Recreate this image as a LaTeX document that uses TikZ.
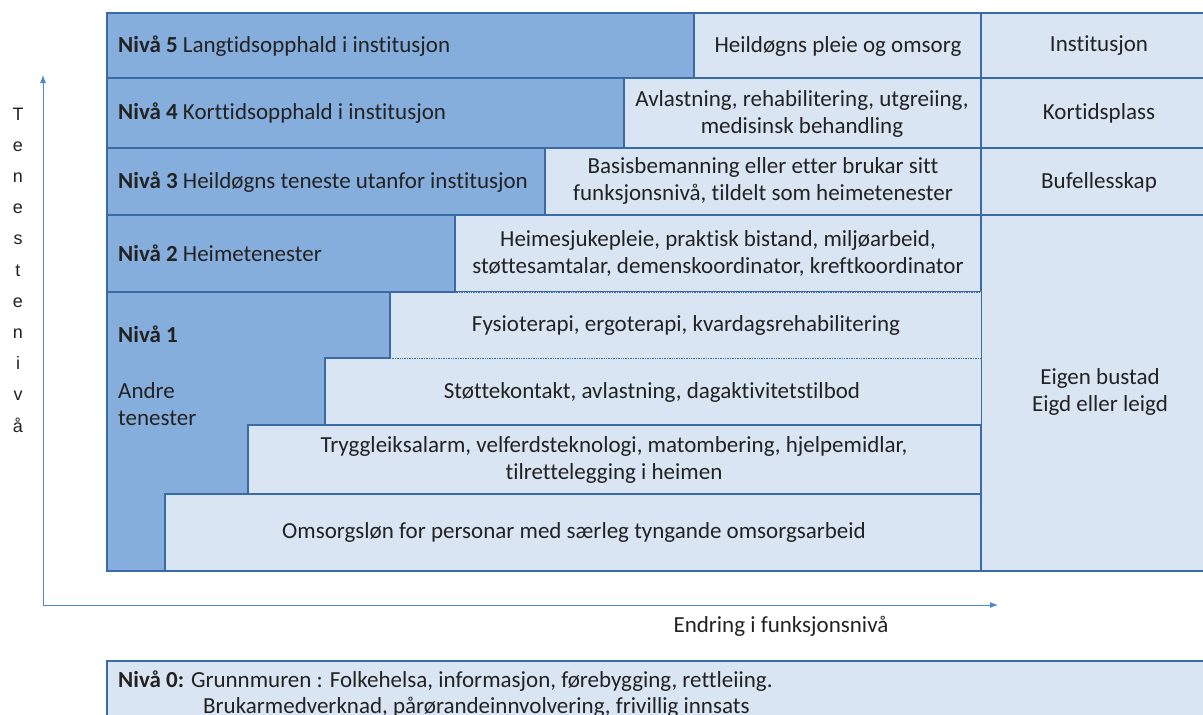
\documentclass[tikz,border=0pt]{standalone}
\usepackage{fontspec}
\setmainfont{Carlito}[Ligatures=NoCommon]
\newfontfamily\axisfont{Liberation Sans}
\usetikzlibrary{arrows.meta}
\definecolor{darkfill}{HTML}{86AEDD}
\definecolor{lightfill}{HTML}{DAE5F3}
\definecolor{edgeblue}{HTML}{3A6BA8}
\definecolor{arrowblue}{HTML}{4F87D0}
\definecolor{ink}{HTML}{222222}

\begin{document}
\begin{tikzpicture}[x=1pt, y=-1pt, text=ink,
    font=\fontsize{23}{27}\selectfont,
    lvl/.style={draw=edgeblue, line width=1.4pt, fill=darkfill},
    srv/.style={draw=edgeblue, line width=1.4pt, fill=lightfill},
    soft/.style={draw=edgeblue, line width=0.7pt, densely dotted, fill=lightfill},
    lbl/.style={anchor=west, inner sep=0pt},
    txt/.style={align=center, inner sep=0pt}]
    \useasboundingbox (0,0) rectangle (1203,715);
    \clip (0,0) rectangle (1203,715);

    % right column
    \draw[srv] (981,13) rectangle (1215,78);
    \draw[srv] (981,78) rectangle (1215,148);
    \draw[srv] (981,148) rectangle (1215,215);
    \draw[srv] (981,215) rectangle (1215,571);

    % services
    \draw[srv] (694,13) rectangle (981,78);
    \draw[srv] (624,78) rectangle (981,148);
    \draw[srv] (545,148) rectangle (981,215);
    \draw[srv] (455,215) rectangle (981,292);
    \draw[soft] (390,292) rectangle (981,358);
    \draw[soft] (325,358) rectangle (981,425);
    \draw[srv] (248,425) rectangle (981,494);
    \draw[srv] (165,494) rectangle (981,571);

    % levels
    \draw[lvl] (107,13) rectangle (694,78);
    \draw[lvl] (107,78) rectangle (624,148);
    \draw[lvl] (107,148) rectangle (545,215);
    \draw[lvl] (107,215) rectangle (455,292);
    \draw[lvl] (107,292) -- (390,292) -- (390,358) -- (325,358) -- (325,425)
        -- (248,425) -- (248,494) -- (165,494) -- (165,571) -- (107,571) -- cycle;

    \node[lbl] (n5) at (118,46) {\textbf{Nivå 5} Langtidsopphald i institusjon};
    \node[lbl] (n4) at (118,113) {\textbf{Nivå 4} Korttidsopphald i institusjon};
    \node[lbl] (n3) at (118,182) {\textbf{Nivå 3} Heildøgns teneste utanfor institusjon};
    \node[lbl] (n2) at (118,253) {\textbf{Nivå 2} Heimetenester};
    \node[lbl] (n1) at (118,334) {\textbf{Nivå 1}};
    \node[lbl, align=left] (andre) at (118,404) {Andre\\tenester};

    \node[txt] (s5) at (838,46) {Heildøgns pleie og omsorg};
    \node[txt] (s4) at (802,114) {Avlastning, rehabilitering, utgreiing,\\medisinsk behandling};
    \node[txt] (s3) at (763,181) {Basisbemanning eller etter brukar sitt\\funksjonsnivå, tildelt som heimetenester};
    \node[txt] (s2) at (718,253) {Heimesjukepleie, praktisk bistand, miljøarbeid,\\støttesamtalar, demenskoordinator, kreftkoordinator};
    \node[txt] (s1a) at (686,325) {Fysioterapi, ergoterapi, kvardagsrehabilitering};
    \node[txt] (s1b) at (652,392) {Støttekontakt, avlastning, dagaktivitetstilbod};
    \node[txt] (s1c) at (614,460) {Tryggleiksalarm, velferdsteknologi, matombering, hjelpemidlar,\\tilrettelegging i heimen};
    \node[txt] (s1d) at (574,532) {Omsorgsløn for personar med særleg tyngande omsorgsarbeid};

    \node[txt] (b5) at (1099,46) {Institusjon};
    \node[txt] (b4) at (1099,113) {Kortidsplass};
    \node[txt] (b3) at (1099,182) {Bufellesskap};
    \node[txt] (b1) at (1100,392) {Eigen bustad\\Eigd eller leigd};

    % axes
    \coordinate (o) at (43,605);
    \coordinate (ytop) at (43,75);
    \coordinate (xend) at (998,605);
    \draw[arrowblue, line width=0.9pt, -{Latex[length=8pt,width=6pt]}] (o) -- (ytop);
    \draw[arrowblue, line width=0.9pt, -{Latex[length=8pt,width=6pt]}] (o) -- (xend);
    \foreach \l [count=\i] in {T,e,n,e,s,t,e,n,i,v,å}
        \node[anchor=base, inner sep=0pt, font=\axisfont\fontsize{18}{20}\selectfont]
            (t\i) at (18,120+31.2*\i-31.2) {\l};
    \node[txt] (endring) at (781,626) {Endring i funksjonsnivå};

    % grunnmur
    \draw[srv] (107,661) rectangle (1215,740);
    \node[lbl] (n0) at (118,681) {\textbf{Nivå 0:} Grunnmuren : Folkehelsa, informasjon, førebygging, rettleiing.};
    \node[lbl] (n0b) at (203,707) {Brukarmedverknad, pårørandeinnvolvering, frivillig innsats};
\end{tikzpicture}
\end{document}
